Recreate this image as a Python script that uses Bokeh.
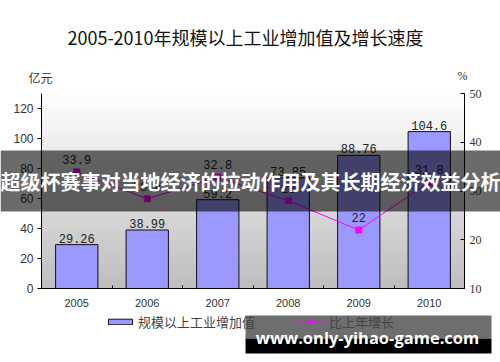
import numpy as np
from bokeh.plotting import figure
from bokeh.models import (Range1d, LinearAxis, FixedTicker, ColumnDataSource, Label,
                          Legend, LegendItem, BoxAnnotation)
from bokeh.core.properties import value
from bokeh.embed import file_html
from bokeh.resources import INLINE

# ---------------- data ----------------
years = ["2005", "2006", "2007", "2008", "2009", "2010"]
added_value = [29.26, 38.99, 59.2, 73.85, 88.76, 104.6]          # 亿元
added_value_labels = ["29.26", "38.99", "59.2", "73.85", "88.76", "104.6"]
growth = [33.9, 28.4, 32.8, 28.0, 22.0, 31.8]                    # %
growth_labels = ["33.9", "28.4", "32.8", "28", "22", "31.8"]
left_ticks = [0, 20, 40, 60, 80, 100, 120]
right_ticks = [10, 20, 30, 40, 50]

title_text = "2005-2010年规模以上工业增加值及增长速度"
left_unit = "亿元"
right_unit = "%"
legend_bar = "规模以上工业增加值"
legend_line = "比上年增长"
banner_text = "超级杯赛事对当地经济的拉动作用及其长期经济效益分析"
watermark_text = "www.only-yihao-game.com"

CJK = "Noto Sans CJK SC"

# ---------------- layout (pixels) ----------------
W, H = 500, 362
PX0, PX1 = 41.0, 464.0      # plot area left / right
PY_TOP, PY_BOT = 93.0, 288.0  # plot area top / bottom (from top)
XMIN, XMAX = -0.5, 5.5
YMIN, YMAX = 0.0, 130.0
PMIN, PMAX = 10.0, 50.0

kx = (PX1 - PX0) / (XMAX - XMIN)
ky = (PY_BOT - PY_TOP) / (YMAX - YMIN)
kp = (PY_BOT - PY_TOP) / (PMAX - PMIN)
x_range = Range1d(XMIN - PX0 / kx, XMAX + (W - PX1) / kx)
y_range = Range1d(YMIN - (H - PY_BOT) / ky, YMAX + PY_TOP / ky)
p_range = Range1d(PMIN - (H - PY_BOT) / kp, PMAX + PY_TOP / kp)


def sy(y_from_top):
    return H - y_from_top


xs = list(range(len(years)))
src = ColumnDataSource(dict(x=xs, v=added_value, vl=added_value_labels,
                            g=growth, gl=growth_labels))

p = figure(width=W, height=H, output_backend="svg", toolbar_location=None,
           x_range=x_range, y_range=y_range, min_border=0,
           x_axis_location=None, y_axis_location=None)
p.extra_y_ranges = {"pct": p_range}
p.outline_line_color = None
p.grid.visible = False
p.background_fill_color = "white"
p.border_fill_color = "white"

# gradient background of plot area (white top -> grey bottom)
n = 130
t = np.linspace(0.0, 1.0, n)[:, None]
bot = np.array([190, 190, 190], dtype=float)
top = np.array([255, 255, 255], dtype=float)
cols = bot + (top - bot) * t
img = np.empty((n, 1), dtype=np.uint32)
view = img.view(dtype=np.uint8).reshape((n, 1, 4))
view[:, 0, 0] = cols[:, 0]
view[:, 0, 1] = cols[:, 1]
view[:, 0, 2] = cols[:, 2]
view[:, 0, 3] = 255
p.image_rgba(image=[img], x=XMIN, y=YMIN, dw=XMAX - XMIN, dh=YMAX - YMIN)

bars = p.vbar(x="x", top="v", width=0.6, source=src, fill_color="#9999FF",
              line_color="#111111", line_width=1)
line = p.line(x="x", y="g", source=src, line_color="#FF00FF", line_width=1, y_range_name="pct")
pts = p.scatter(x="x", y="g", source=src, marker="square", size=6, fill_color="#FF00FF",
                line_color="#FF00FF", y_range_name="pct")

p.text(x="x", y="v", text="vl", source=src, text_align="center", text_baseline="bottom",
       y_offset=-2, text_font=value("Liberation Mono"), text_font_size="12px", text_color="#222222")
p.text(x="x", y="g", text="gl", source=src, text_align="center", text_baseline="bottom",
       y_offset=-8, text_font=value("Liberation Mono"), text_font_size="12px", text_color="#222222",
       y_range_name="pct")

# axes (fixed at plot-area edges)
xa = LinearAxis(fixed_location=YMIN, bounds=(XMIN, XMAX),
                ticker=FixedTicker(ticks=xs, minor_ticks=[i - 0.5 for i in range(len(years) + 1)]))
xa.major_label_overrides = {i: y for i, y in enumerate(years)}
xa.major_tick_in = 0
xa.major_tick_out = 0
xa.minor_tick_in = 3
xa.minor_tick_out = 0
xa.axis_line_color = "black"
xa.minor_tick_line_color = "black"
xa.major_label_standoff = 10
xa.major_label_text_font = "Liberation Sans"
xa.major_label_text_font_size = "11px"
xa.major_label_text_color = "#333333"
p.add_layout(xa, "below")

ya = LinearAxis(fixed_location=XMIN, bounds=(YMIN, YMAX), ticker=FixedTicker(ticks=left_ticks))
ya.major_tick_in = 0
ya.major_tick_out = 4
ya.axis_line_color = "black"
ya.major_tick_line_color = "black"
ya.major_label_standoff = 4
ya.major_label_text_font = "Liberation Sans"
ya.major_label_text_font_size = "12px"
ya.major_label_text_color = "#333333"
p.add_layout(ya, "left")

ra = LinearAxis(y_range_name="pct", fixed_location=XMAX, bounds=(PMIN, PMAX),
                ticker=FixedTicker(ticks=right_ticks))
ra.major_tick_in = 4
ra.major_tick_out = 0
ra.axis_line_color = "black"
ra.major_tick_line_color = "black"
ra.major_label_standoff = 5
ra.major_label_text_font = "Liberation Serif"
ra.major_label_text_font_size = "12px"
ra.major_label_text_color = "#333333"
p.add_layout(ra, "right")

# texts (screen units, origin bottom-left of canvas)
p.add_layout(Label(x=245, y=sy(36), x_units="screen", y_units="screen", text=title_text,
                   text_align="center", text_baseline="middle", text_font=CJK,
                   text_font_size="18px", text_color="#111111"))
p.add_layout(Label(x=40, y=sy(77), x_units="screen", y_units="screen", text=left_unit,
                   text_align="center", text_baseline="middle", text_font=CJK,
                   text_font_size="12px", text_color="#333333"))
p.add_layout(Label(x=462, y=sy(75), x_units="screen", y_units="screen", text=right_unit,
                   text_align="center", text_baseline="middle", text_font="Liberation Serif",
                   text_font_size="12px", text_color="#333333"))

legend = Legend(items=[LegendItem(label=legend_bar, renderers=[bars]),
                       LegendItem(label=legend_line, renderers=[line, pts])],
                location=(105, sy(323) - 8), orientation="horizontal", border_line_color=None,
                background_fill_alpha=0, padding=0, margin=0, spacing=41,
                glyph_width=30, glyph_height=7, label_standoff=3,
                label_text_font=CJK, label_text_font_size="13px", label_text_color="#444444")
p.add_layout(legend, "center")

# banner overlay
p.add_layout(BoxAnnotation(left=0, right=W, bottom=sy(211), top=sy(150),
                           left_units="screen", right_units="screen",
                           bottom_units="screen", top_units="screen",
                           fill_color="black", fill_alpha=0.58, line_color=None))
p.add_layout(Label(x=250, y=sy(181), x_units="screen", y_units="screen", text=banner_text,
                   text_align="center", text_baseline="middle", text_font=CJK,
                   text_font_style="bold", text_font_size="20px", text_color="white"))

# watermark overlay
p.add_layout(BoxAnnotation(left=245, right=491, bottom=sy(338), top=sy(315),
                           left_units="screen", right_units="screen",
                           bottom_units="screen", top_units="screen",
                           fill_color="black", fill_alpha=0.57, line_color=None))
p.add_layout(BoxAnnotation(left=245, right=491, bottom=sy(353), top=sy(338),
                           left_units="screen", right_units="screen",
                           bottom_units="screen", top_units="screen",
                           fill_color="black", fill_alpha=1.0, line_color=None))
p.add_layout(Label(x=367, y=sy(337), x_units="screen", y_units="screen", text=watermark_text,
                   text_align="center", text_baseline="middle", text_font="Open Sans",
                   text_font_style="bold", text_font_size="16.5px", text_color="white"))

open("out.html", "w").write(file_html(p, INLINE))
